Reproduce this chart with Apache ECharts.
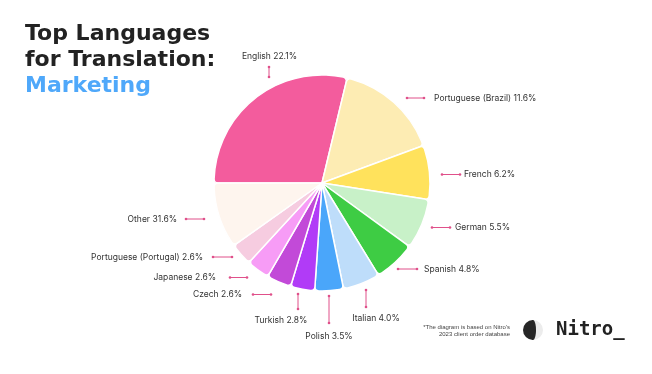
<!DOCTYPE html>
<html>
<head>
<meta charset="utf-8">
<script src="https://cdn.jsdelivr.net/npm/echarts@6/dist/echarts.min.js"></script>
<style>
  html, body { margin: 0; padding: 0; background: #ffffff; }
  #chart { width: 652px; height: 374px; }
</style>
</head>
<body>
<div id="chart"></div>
<script>
// ---- data ----
const languages = ['English', 'Portuguese (Brazil)', 'French', 'German', 'Spanish', 'Italian',
  'Polish', 'Turkish', 'Czech', 'Japanese', 'Portuguese (Portugal)', 'Other'];
// shares printed on the labels
const labelShares = ['22.1', '11.6', '6.2', '5.5', '4.8', '4.0', '3.5', '2.8', '2.6', '2.6', '2.6', '31.6'];
// slice sizes as drawn in the picture (degrees of arc)
const sliceSizes = [103.5, 56.2, 29.2, 27.1, 22.5, 20.0, 15.4, 13.0, 13.3, 12.4, 12.1, 35.3];

// ---- styling / layout (not data) ----
const colors = ['#F35C9D', '#FDECB3', '#FFE25C', '#C8F1C8', '#3ECC44', '#BEDDFA',
  '#4AA6FA', '#B13BF7', '#C24AD8', '#F79CF6', '#F6CCE0', '#FEF5EE'];
// label anchor [x, y, align]
const labelPos = [
  [269.5, 56, 'center'], [434, 98, 'left'], [464, 174.5, 'left'], [455, 227.5, 'left'],
  [424, 269, 'left'], [376, 318.5, 'center'], [329, 336, 'center'], [281, 320, 'center'],
  [242, 294.5, 'right'], [216, 277.5, 'right'], [203, 257, 'right'], [177, 219, 'right']
];
// connector segments [x1, y1, x2, y2]
const connectors = [
  [269, 67, 269, 77], [407, 98, 424, 98], [442, 174.5, 460, 174.5], [432, 227.5, 450, 227.5],
  [398, 269, 417, 269], [366, 290, 366, 307], [329, 296, 329, 323], [298, 294, 298, 309],
  [253, 294.5, 271, 294.5], [230, 277.5, 247, 277.5], [213, 257, 232, 257], [186, 219, 204, 219]
];
const connColor = '#E0508A';

const chart = echarts.init(document.getElementById('chart'), null, { renderer: 'canvas' });

const graphics = [];
connectors.forEach(c => {
  graphics.push({ type: 'line', shape: { x1: c[0], y1: c[1], x2: c[2], y2: c[3] },
    style: { stroke: connColor, lineWidth: 1 }, silent: true });
  graphics.push({ type: 'circle', shape: { cx: c[0], cy: c[1], r: 1.3 }, style: { fill: connColor }, silent: true });
  graphics.push({ type: 'circle', shape: { cx: c[2], cy: c[3], r: 1.3 }, style: { fill: connColor }, silent: true });
});
// footnote
graphics.push({ type: 'text', x: 510, y: 327, style: { text: "*The diagram is based on Nitro's",
  font: '6px "Liberation Sans Narrow", "Liberation Sans", sans-serif', fill: '#444', align: 'right', verticalAlign: 'middle' } });
graphics.push({ type: 'text', x: 510, y: 334, style: { text: '2023 client order database',
  font: '6px "Liberation Sans Narrow", "Liberation Sans", sans-serif', fill: '#444', align: 'right', verticalAlign: 'middle' } });
// logo globe
graphics.push({ type: 'circle', shape: { cx: 533, cy: 330, r: 10 }, style: { fill: '#ececec' } });
graphics.push({ type: 'sector', shape: { cx: 533, cy: 330, r: 10, r0: 0, startAngle: Math.PI / 2, endAngle: Math.PI * 1.5 }, style: { fill: '#262626' } });
graphics.push({ type: 'ellipse', shape: { cx: 533, cy: 330, rx: 3, ry: 10 }, style: { fill: '#262626' } });
// logo word
graphics.push({ type: 'text', x: 556, y: 330, style: { text: 'Nitro_',
  font: 'bold 19px "DejaVu Sans Mono", monospace', fill: '#222', align: 'left', verticalAlign: 'middle' } });

const option = {
  backgroundColor: '#ffffff',
  animation: false,
  title: {
    left: 20, top: 16,
    text: '{a|Top Languages}\n{a|for Translation:}\n{b|Marketing}',
    textStyle: {
      rich: {
        a: { fontFamily: 'DejaVu Sans', fontWeight: 'bold', fontSize: 22, color: '#222222', lineHeight: 26 },
        b: { fontFamily: 'DejaVu Sans', fontWeight: 'bold', fontSize: 22, color: '#4FA8FA', lineHeight: 27 }
      }
    }
  },
  graphic: graphics,
  series: [{
    type: 'pie',
    center: [322, 183],
    radius: [0, 108],
    startAngle: 180,
    clockwise: true,
    avoidLabelOverlap: false,
    itemStyle: { borderColor: '#ffffff', borderWidth: 1.5, borderRadius: 4 },
    label: {
      show: true,
      position: 'outside',
      formatter: p => p.name + ' ' + labelShares[p.dataIndex] + '%',
      fontFamily: 'Inter', fontSize: 8.5, color: '#333333'
    },
    labelLine: { show: false },
    labelLayout: p => {
      const lp = labelPos[p.dataIndex];
      return { x: lp[0], y: lp[1], align: lp[2], verticalAlign: 'middle', moveOverlap: false, hideOverlap: false };
    },
    emphasis: { disabled: true },
    data: languages.map((n, i) => ({ name: n, value: sliceSizes[i], itemStyle: { color: colors[i] } }))
  }]
};
chart.setOption(option);
</script>
</body>
</html>
